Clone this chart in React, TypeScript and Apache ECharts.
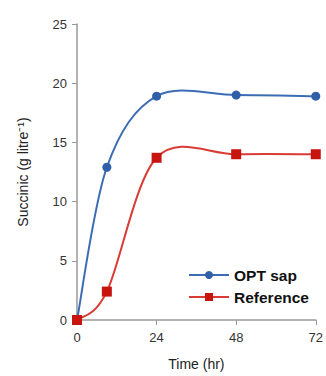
import React, { useEffect, useRef } from "react";
import * as echarts from "echarts";

const times = [0, 9, 24, 48, 72];
const optSap = [0, 12.9, 18.9, 19.0, 18.9];
const reference = [0, 2.4, 13.7, 14.0, 14.0];
const xTicks = [0, 24, 48, 72];
const seriesNames = ["OPT sap", "Reference"];
const lineColors = ["#3C6DB4", "#D93B35"];
const markColors = ["#2F5FA8", "#C8140F"];

function curveSeries(name: string, values: number[], color: string) {
  return {
    name,
    type: "custom",
    data: times.map((t, i) => [t, values[i]]),
    silent: true,
    z: 2,
    renderItem: (params: any, api: any) => {
      if (params.dataIndex !== 0) return null;
      const pts = times.map((t, i) => api.coord([t, values[i]]));
      const n = pts.length;
      let d = `M${pts[0][0]},${pts[0][1]}`;
      for (let i = 0; i < n - 1; i++) {
        const p0 = pts[Math.max(0, i - 1)];
        const p1 = pts[i];
        const p2 = pts[i + 1];
        const p3 = pts[Math.min(n - 1, i + 2)];
        const c1x = p1[0] + (p2[0] - p0[0]) / 6;
        const c1y = p1[1] + (p2[1] - p0[1]) / 6;
        const c2x = p2[0] - (p3[0] - p1[0]) / 6;
        const c2y = p2[1] - (p3[1] - p1[1]) / 6;
        d += ` C${c1x},${c1y} ${c2x},${c2y} ${p2[0]},${p2[1]}`;
      }
      return {
        type: "path",
        shape: { pathData: d },
        style: { stroke: color, fill: "none", lineWidth: 2 },
      };
    },
  };
}

export default function App() {
  const ref = useRef<HTMLDivElement>(null);
  useEffect(() => {
    if (!ref.current) return;
    const chart = echarts.init(ref.current, null, { renderer: "svg" });
    const font = "'Liberation Sans', Arial, sans-serif";
    chart.setOption({
      animation: false,
      grid: { left: 77, right: 9, top: 24, bottom: 53 },
      legend: {
        left: 183,
        top: 262,
        orient: "vertical",
        itemWidth: 40,
        itemHeight: 10,
        itemGap: 6,
        textStyle: { fontFamily: font, fontSize: 15.5, fontWeight: "bold", color: "#111" },
        data: seriesNames.map((n, i) => ({
          name: n,
          lineStyle: { color: lineColors[i], width: 2, opacity: 1 },
          itemStyle: { color: markColors[i] },
        })),
      },
      xAxis: {
        type: "value",
        min: 0,
        max: 72,
        interval: 24,
        name: "Time (hr)",
        nameLocation: "middle",
        nameGap: 37,
        nameTextStyle: { fontFamily: font, fontSize: 14, color: "#222" },
        axisLine: { lineStyle: { color: "#999", width: 1.5 } },
        axisTick: { show: true, length: 5, lineStyle: { color: "#999" } },
        axisLabel: {
          fontFamily: font,
          fontSize: 13,
          color: "#333",
          margin: 11,
          formatter: (v: number) => (xTicks.includes(v) ? String(v) : ""),
        },
        splitLine: { show: false },
      },
      yAxis: {
        type: "value",
        min: 0,
        max: 25,
        interval: 5,
        name: "Succinic (g litre⁻¹)",
        nameLocation: "middle",
        nameGap: 47,
        nameTextStyle: { fontFamily: font, fontSize: 14, color: "#222" },
        axisLine: { show: true, lineStyle: { color: "#999", width: 1.5 } },
        axisTick: { show: true, length: 5, lineStyle: { color: "#999" } },
        axisLabel: { fontFamily: font, fontSize: 13, color: "#333", margin: 10 },
        splitLine: { show: false },
      },
      series: [
        {
          name: seriesNames[0],
          type: "line",
          data: times.map((t, i) => [t, optSap[i]]),
          symbol: "circle",
          symbolSize: 9,
          lineStyle: { color: lineColors[0], width: 0 },
          itemStyle: { color: markColors[0] },
          z: 3,
        },
        {
          name: seriesNames[1],
          type: "line",
          data: times.map((t, i) => [t, reference[i]]),
          symbol: "rect",
          symbolSize: 10,
          lineStyle: { color: lineColors[1], width: 0 },
          itemStyle: { color: markColors[1] },
          z: 4,
        },
        curveSeries(seriesNames[0], optSap, lineColors[0]),
        curveSeries(seriesNames[1], reference, lineColors[1]),
      ],
    });
    return () => chart.dispose();
  }, []);
  return <div ref={ref} style={{ width: 326, height: 376, position: "absolute", left: 0, top: 0, background: "#fff" }} />;
}
